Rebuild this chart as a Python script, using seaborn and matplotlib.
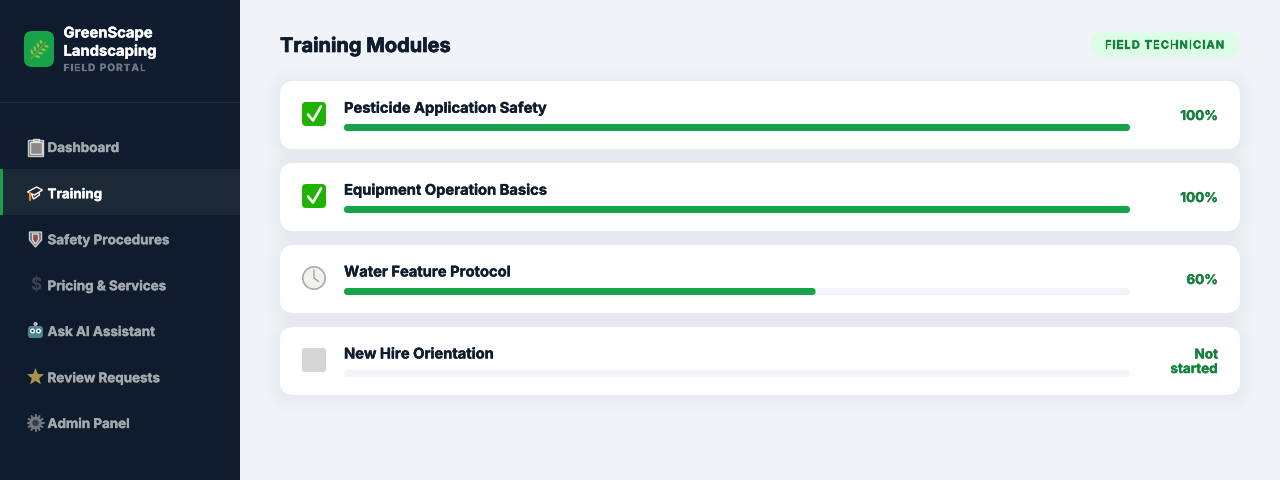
import matplotlib
matplotlib.use('Agg')
import matplotlib.pyplot as plt
import numpy as np
import pandas as pd
import seaborn as sns
from matplotlib import patheffects
from matplotlib.patches import Circle, Ellipse, FancyBboxPatch, Polygon, Rectangle
from matplotlib.textpath import text_to_path
from matplotlib.font_manager import FontProperties

modules = ['Pesticide Application Safety', 'Equipment Operation Basics', 'Water Feature Protocol', 'New Hire Orientation']
progress = [100, 100, 60, 0]
status_labels = ['100%', '100%', '60%', 'Not\nstarted']
module_icons = ['check', 'check', 'clock', 'blank']
nav_labels = ['Dashboard', 'Training', 'Safety Procedures', 'Pricing & Services', 'Ask AI Assistant', 'Review Requests', 'Admin Panel']
nav_icons = ['clipboard', 'cap', 'shield', 'dollar', 'robot', 'star', 'gear']
active_nav = 'Training'

NAVY = '#0f1c2e'
INK = '#0f1c2e'
GREEN = '#16a34a'
DARK_GREEN = '#15803d'
TRACK = '#f1f5f9'
PAGE = '#f0f4f8'

sns.set_theme(style='white')
plt.rcParams['font.family'] = ['Inter', 'DejaVu Sans']

fig = plt.figure(figsize=(12.8, 4.8), dpi=100, facecolor=PAGE)
page = fig.add_axes([0, 0, 1, 1], zorder=0)
page.set_xlim(0, 1280)
page.set_ylim(480, 0)
page.axis('off')


def px(size):
    return size * 0.72


def rounded(x, y, w, h, r, color, alpha=1.0, zorder=2, add=True):
    patch = FancyBboxPatch((x + r, y + r), w - 2 * r, h - 2 * r, boxstyle=f'round,pad={r},rounding_size={r}',
                           facecolor=color, edgecolor='none', alpha=alpha, zorder=zorder, transform=page.transData)
    if add:
        page.add_patch(patch)
    return patch


def label_text(x, y, text, size, color, ha='left', heavy=0.25):
    # browser text renders a bit heavier than Agg, a thin stroke evens it out
    t = page.text(x, y, text, color=color, fontsize=px(size), fontweight='bold', ha=ha, va='center', zorder=5)
    t.set_path_effects([patheffects.withStroke(linewidth=heavy, foreground=color)])
    return t


def spaced_text(x, y, text, size, spacing, color, weight='bold'):
    # matplotlib has no letter-spacing, so place the letters one by one
    fp = FontProperties(family='Inter', weight=weight, size=px(size))
    for i, ch in enumerate(text):
        if ch == ' ':
            continue
        full = text_to_path.get_text_width_height_descent(text[:i + 1], fp, ismath=False)[0]
        own = text_to_path.get_text_width_height_descent(ch, fp, ismath=False)[0]
        t = page.text(x + (full - own) * 100 / 72 + i * spacing, y, ch, fontproperties=fp, color=color, ha='left', va='center', zorder=5)
        t.set_path_effects([patheffects.withStroke(linewidth=0.2, foreground=color)])


def draw_leaf(cx, cy):
    page.plot([cx - 8, cx + 7], [cy + 10, cy - 7], color='#8aa33f', lw=0.7, zorder=6)
    for t, side in [(0.25, 1), (0.25, -1), (0.45, 1), (0.45, -1), (0.65, 1), (0.65, -1), (0.85, 1), (0.85, -1)]:
        bx = cx - 8 + 15 * t
        by = cy + 10 - 17 * t
        angle = 10 if side > 0 else 75
        ex = bx + side * 2.8
        ey = by + 1.8 if side > 0 else by - 2.6
        page.add_patch(Ellipse((ex, ey), 6 - 2 * t, 2.4, angle=angle, facecolor='#9dbb45', edgecolor='none', zorder=6))


def draw_check(cx, cy):
    rounded(cx - 12, cy - 12, 24, 24, 4, '#1fb300', zorder=4)
    page.plot([cx - 6, cx - 1, cx + 7], [cy + 0.5, cy + 6.5, cy - 7.5], color='white', lw=1.9, zorder=5, solid_capstyle='round')


def draw_clock(cx, cy):
    page.add_patch(Circle((cx, cy), 12, facecolor='#ababab', edgecolor='none', zorder=4))
    page.add_patch(Circle((cx, cy), 10.3, facecolor='#f3f1ef', edgecolor='none', zorder=4))
    page.plot([cx, cx, cx + 4.5], [cy - 8, cy, cy + 3.5], color='#9a9a9a', lw=0.9, zorder=5)


def draw_nav_icon(kind, cx, cy, alpha):
    if kind == 'clipboard':
        page.add_patch(Rectangle((cx - 7.5, cy - 7.5), 15, 16, facecolor='#6f6252', alpha=alpha, zorder=4))
        page.add_patch(Rectangle((cx - 6, cy - 5.5), 12, 12.5, facecolor='#9a9ea2', alpha=alpha, zorder=5))
        page.add_patch(Rectangle((cx - 3, cy - 8.5), 6, 2.5, facecolor='#7d7d7d', alpha=alpha, zorder=6))
    elif kind == 'cap':
        page.add_patch(Polygon([(cx - 8, cy - 1), (cx + 1, cy - 6), (cx + 7, cy - 3), (cx - 1, cy + 2)], facecolor='#24272b', zorder=5))
        page.add_patch(Polygon([(cx - 4, cy + 1), (cx + 3, cy - 2), (cx + 4, cy + 2), (cx - 2, cy + 6)], facecolor='#33363b', zorder=4))
        page.plot([cx - 5.5, cx - 5.5], [cy, cy + 7], color='#e58a1f', lw=1.6, zorder=6)
    elif kind == 'shield':
        page.add_patch(Polygon([(cx - 6, cy - 7), (cx + 6, cy - 7), (cx + 6, cy + 1), (cx, cy + 8), (cx - 6, cy + 1)], facecolor='#7f8388', alpha=alpha, zorder=4))
        page.add_patch(Polygon([(cx - 3, cy - 5), (cx + 3, cy - 5), (cx + 3, cy + 1), (cx, cy + 5), (cx - 3, cy + 1)], facecolor='#a8423e', alpha=alpha, zorder=5))
    elif kind == 'dollar':
        page.text(cx, cy, '$', color='#3a4350', fontsize=px(17), fontweight='bold', ha='center', va='center', zorder=5)
    elif kind == 'robot':
        rounded(cx - 7.5, cy - 5, 15, 12, 3, '#5fa9b8', alpha=alpha, zorder=4)
        page.add_patch(Circle((cx - 3, cy), 1.8, facecolor='#20303c', zorder=5))
        page.add_patch(Circle((cx + 3, cy), 1.8, facecolor='#20303c', zorder=5))
        page.add_patch(Circle((cx, cy - 7), 1.3, facecolor='#b5653c', alpha=alpha, zorder=5))
    elif kind == 'star':
        angles = np.deg2rad(np.arange(0, 360, 36) - 90)
        radii = np.tile([9, 3.9], 5)
        page.add_patch(Polygon(np.c_[cx + radii * np.cos(angles), cy + radii * np.sin(angles)], facecolor='#dcbc52', edgecolor='none', alpha=alpha, zorder=5))
    elif kind == 'gear':
        angles = np.deg2rad(np.arange(0, 360, 30))
        for a in angles:
            page.plot([cx + 5 * np.cos(a), cx + 8 * np.cos(a)], [cy + 5 * np.sin(a), cy + 8 * np.sin(a)], color='#70767d', lw=1.5, zorder=4)
        page.add_patch(Circle((cx, cy), 6.3, facecolor='#70767d', edgecolor='none', zorder=5))
        page.add_patch(Circle((cx, cy), 3.2, facecolor='#363e48', edgecolor='none', zorder=6))


# sidebar
page.add_patch(Rectangle((0, 0), 240, 480, facecolor=NAVY, edgecolor='none', zorder=1))
page.add_patch(Rectangle((0, 102), 240, 1, facecolor='#1f2b3b', edgecolor='none', zorder=2))
rounded(24, 31, 30, 36, 8, GREEN, zorder=3)
draw_leaf(39, 49)
label_text(63.5, 33.5, 'GreenScape', 14.8, 'white')
label_text(63.5, 51.5, 'Landscaping', 14.8, 'white')
spaced_text(63.5, 68, 'FIELD PORTAL', 10, 1.05, '#6d7682')

for i, label in enumerate(nav_labels):
    y = 147 + 46 * i
    is_active = label == active_nav
    if is_active:
        page.add_patch(Rectangle((0, y - 24), 240, 46, facecolor='#1c2a38', edgecolor='none', zorder=2))
        page.add_patch(Rectangle((0, y - 24), 3, 46, facecolor=GREEN, edgecolor='none', zorder=3))
    draw_nav_icon(nav_icons[i], 35.5, y, 1.0 if is_active else 0.75)
    label_text(47.5, y + 1, label, 13.4, 'white' if is_active else '#a3a8af')

# header
label_text(280, 46.5, 'Training Modules', 20, INK, heavy=0.5)
rounded(1091, 32, 149, 25, 12.5, '#dcfce7', zorder=3)
spaced_text(1105, 45.5, 'FIELD TECHNICIAN', 11, 1.1, DARK_GREEN)

# cards
for i, name in enumerate(modules):
    top = 81 + 82 * i
    for blur in range(16, 0, -2):
        rounded(280 - blur, top + 2 - blur, 960 + 2 * blur, 68 + 2 * blur, 14 + blur, '#0f1c2e', alpha=0.0028, zorder=1.5)
for i, name in enumerate(modules):
    top = 81 + 82 * i
    rounded(280, top, 960, 68, 14, 'white', zorder=2)
    if module_icons[i] == 'check':
        draw_check(314, top + 33)
    elif module_icons[i] == 'clock':
        draw_clock(314, top + 33)
    else:
        rounded(302, top + 21, 24, 24, 2, '#d6d6d6', zorder=4)
    label_text(344, top + 27.5, name, 14.7, INK)
    label = status_labels[i]
    if '\n' in label:
        for k, part in enumerate(label.split('\n')):
            label_text(1218, top + 27.5 + 14.5 * k, part, 13.5, DARK_GREEN, ha='right')
    else:
        label_text(1218, top + 35, label, 13.5, DARK_GREEN, ha='right')

# progress bars go through seaborn on an axes laid over the bar area
bars = fig.add_axes([344 / 1280, 1 - 414.5 / 480, 786 / 1280, 328 / 480], zorder=3)
bars.patch.set_alpha(0)
df = pd.DataFrame({'module': modules, 'progress': progress, 'track': [100] * len(modules)})
sns.barplot(data=df, x='track', y='module', order=modules, color=TRACK, saturation=1, width=7 / 82, ax=bars)
n_track = len(bars.patches)
sns.barplot(data=df, x='progress', y='module', order=modules, color=GREEN, saturation=1, width=7 / 82, ax=bars)
bars.set_xlim(0, 100)
bars.set_ylim(len(modules) - 0.5, -0.5)
bars.axis('off')

# rounded ends: clip each bar to a pill in page coordinates
for i, patch in enumerate(bars.patches):
    row = i % n_track
    y0 = 124 + 82 * row
    width = 786 * patch.get_width() / 100
    if width <= 0:
        patch.set_visible(False)
        continue
    patch.set_edgecolor('none')
    patch.set_clip_path(rounded(344, y0, width, 7, 3.5, 'none', add=False))

fig.savefig('out.png', dpi=100, facecolor=PAGE)
